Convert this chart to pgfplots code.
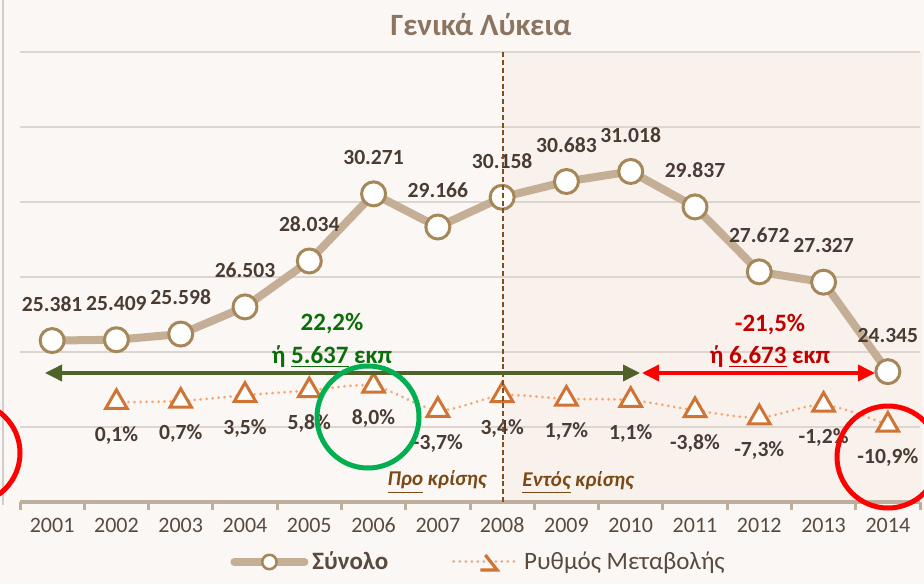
\documentclass[border=0pt]{standalone}
\usepackage{fontspec}
\setmainfont{Carlito}
\usepackage{pgfplots}
\pgfplotsset{compat=1.18}
\usetikzlibrary{arrows.meta}
\definecolor{bg}{HTML}{FAF7F4}
\definecolor{shadec}{HTML}{F9F1EC}
\definecolor{gridc}{HTML}{DDD6D0}
\definecolor{axisc}{HTML}{BDAE9E}
\definecolor{tickc}{HTML}{594A40}
\definecolor{labc}{HTML}{4A3C33}
\definecolor{linec}{HTML}{C4AF96}
\definecolor{markc}{HTML}{A6875A}
\definecolor{dotc}{HTML}{F2A877}
\definecolor{tric}{HTML}{CF7434}
\definecolor{titlec}{HTML}{8C7560}
\definecolor{vlinec}{HTML}{7F4F1F}
\definecolor{crisisc}{HTML}{7A4A16}
\definecolor{arrowg}{HTML}{4F6228}
\definecolor{textg}{HTML}{0B6E0B}
\definecolor{textr}{HTML}{C00000}
\definecolor{circg}{HTML}{00B050}
\begin{document}
\begin{tikzpicture}
\clip (-10pt,-41pt) rectangle (452pt,251pt);
\fill[bg] (-10pt,-41pt) rectangle (452pt,251pt);
\fill[shadec] (241.5pt,0pt) rectangle (451pt,225pt);
\draw[gridc!80!black!60, line width=0.6pt] (-8.5pt,-1.5pt) -- (-8.5pt,251pt);
\begin{axis}[
  at={(0,0)}, anchor=south west,
  scale only axis, width=450pt, height=225pt,
  xmin=0.5, xmax=14.5, ymin=20000, ymax=35000,
  clip=false,
  scaled y ticks=false,
  axis x line*=bottom, axis y line*=left,
  y axis line style={draw=none},
  x axis line style={-, line width=2pt, draw=axisc},
  xtick={1,...,14},
  xticklabels={2001,2002,2003,2004,2005,2006,2007,2008,2009,2010,2011,2012,2013,2014},
  xticklabel style={anchor=base, yshift=-15pt, font=\fontsize{11}{13}\selectfont, text=tickc},
  major tick length=0pt,
  minor xtick={0.5,1.5,...,14.5},
  minor tick length=4pt, tick align=outside,
  minor tick style={line width=1.5pt, draw=axisc},
  major tick style={draw=none},
  ytick={22500,25000,27500,30000,32500,35000}, yticklabels={},
  ymajorgrids, grid style={draw=gridc, line width=0.8pt},
  legend columns=2,
  legend cell align=left,
  legend style={at={(0.5106,-0.1333)}, anchor=center, draw=none, fill=none,
    /tikz/every even column/.append style={column sep=30pt},
    font=\fontsize{12.5}{14}\selectfont, text=tickc},
]
\addplot[color=linec, line width=4pt, line join=round, line cap=round,
  mark=*, mark size=6pt, mark options={fill=white, draw=markc, line width=1.5pt},
  nodes near coords, point meta=explicit symbolic,
  every node near coord/.append style={anchor=center, yshift=18.3pt, font=\fontsize{10.8}{12}\bfseries\selectfont, text=labc},
  legend image code/.code={
    \draw[linec, line width=4pt, line cap=round] (0pt,0pt) -- (35pt,0pt);
    \draw[fill=white, draw=markc, line width=1.3pt] (17.5pt,0pt) circle (3.6pt);
  }]
coordinates {
(1,25381) [25.381]
(2,25409) [25.409]
(3,25598) [25.598]
(4,26503) [26.503]
(5,28034) [28.034]
(6,30271) [30.271]
(7,29166) [29.166]
(8,30158) [30.158]
(9,30683) [30.683]
(10,31018) [31.018]
(11,29837) [29.837]
(12,27672) [27.672]
(13,27327) [27.327]
(14,24345) [24.345]
};
\addlegendentry{\textbf{Σύνολο}}
\addlegendimage{legend image code/.code={
    \draw[dotc, line width=1.5pt, dash pattern=on 0.01pt off 3pt, line cap=round] (0pt,0pt) -- (32.5pt,0pt);
    \draw[tric, line width=1.6pt] (15.8pt,3.5pt) -- (21.7pt,-4pt) -- (13.3pt,-4pt);
  }}
\addlegendentry{Ρυθμός Μεταβολής}
\end{axis}
\begin{axis}[
  at={(0,0)}, anchor=south west,
  scale only axis, width=450pt, height=225pt,
  xmin=0.5, xmax=14.5, ymin=-48.1, ymax=169.3,
  axis lines=none, ticks=none, clip=false,
]
\addplot[color=dotc, line width=1.5pt, dash pattern=on 0.01pt off 3pt, line cap=round,
  smooth, tension=0.5,
  mark=triangle*, mark size=6.2pt,
  mark options={solid, fill=white, draw=tric, line width=1.5pt, line cap=butt, line join=miter},
  nodes near coords, point meta=explicit symbolic,
  every node near coord/.append style={anchor=center, yshift=-16.5pt, font=\fontsize{10.8}{12}\bfseries\selectfont, text=labc}]
coordinates {
(2,0.1) [0,1\%]
(3,0.7) [0,7\%]
(4,3.5) [3,5\%]
(5,5.8) [5,8\%]
(6,8.0) [8,0\%]
(7,-3.7) [-3,7\%]
(8,3.4) [3,4\%]
(9,1.7) [1,7\%]
(10,1.1) [1,1\%]
(11,-3.8) [-3,8\%]
(12,-7.3) [-7,3\%]
(13,-1.2) [-1,2\%]
(14,-10.9) [-10,9\%]
};
\end{axis}
% annotations
\draw[vlinec, line width=1pt, dash pattern=on 2.5pt off 1.4pt] (241.5pt,0pt) -- (241.5pt,225pt);
\draw[arrowg, line width=1.8pt, {Triangle[length=8.5pt,width=8pt]}-{Triangle[length=8.5pt,width=8pt]}] (12.5pt,64.5pt) -- (310pt,64.5pt);
\draw[red, line width=1.8pt, {Triangle[length=8.5pt,width=8pt]}-{Triangle[length=8.5pt,width=8pt]}] (311pt,64.5pt) -- (427.5pt,64.5pt);
\node[text=textg, font=\fontsize{12.5}{14}\bfseries\selectfont] at (156pt,89pt) {22,2\%};
\node[text=textg, font=\fontsize{12.5}{14}\bfseries\selectfont] at (156pt,72.5pt) {ή \underline{5.637} εκπ};
\node[text=textr, font=\fontsize{12.5}{14}\bfseries\selectfont] at (375pt,88.5pt) {{\color{red}-}21,5\%};
\node[text=textr, font=\fontsize{12.5}{14}\bfseries\selectfont] at (375pt,72.5pt) {ή \underline{6.673} εκπ};
\node[text=crisisc, font=\fontsize{10.5}{12}\bfseries\itshape\selectfont] at (208.5pt,10pt) {\underline{Προ} κρίσης};
\node[text=crisisc, font=\fontsize{10.5}{12}\bfseries\itshape\selectfont] at (279pt,9.5pt) {\underline{Εντός} κρίσης};
\node[text=titlec, font=\fontsize{15.5}{18}\bfseries\selectfont] at (230.5pt,238.5pt) {Γενικά Λύκεια};
\draw[circg, line width=2.5pt] (174pt,42.5pt) circle (25.5pt);
\draw[red, line width=2.5pt] (434pt,22.5pt) circle (25.5pt);
\draw[red, line width=2.5pt] (-25.5pt,24.5pt) circle (25.5pt);
\end{tikzpicture}
\end{document}
